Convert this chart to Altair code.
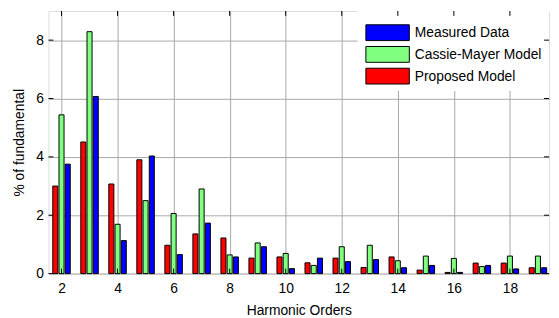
import altair as alt
import pandas as pd

orders = list(range(2, 20))
proposed = [3.00, 4.51, 3.07, 3.90, 0.97, 1.36, 1.22, 0.53, 0.57, 0.37, 0.53, 0.21,
            0.57, 0.12, 0.04, 0.36, 0.36, 0.20]
cassie = [5.44, 8.29, 1.69, 2.50, 2.06, 2.90, 0.64, 1.05, 0.69, 0.28, 0.92, 0.97,
          0.44, 0.60, 0.52, 0.24, 0.60, 0.60]
measured = [3.75, 6.07, 1.13, 4.03, 0.65, 1.73, 0.57, 0.92, 0.17, 0.53, 0.41, 0.48,
            0.20, 0.28, 0.04, 0.28, 0.16, 0.20]

series_names = ["Measured Data", "Cassie-Mayer Model", "Proposed Model"]
series_colors = ["#0000ff", "#80ff80", "#ff0000"]
x_ticks = [2, 4, 6, 8, 10, 12, 14, 16, 18]
y_ticks = [0, 2, 4, 6, 8]

rows = []
for i, o in enumerate(orders):
    rows.append({"order": o, "series": "Proposed Model", "value": proposed[i]})
    rows.append({"order": o, "series": "Cassie-Mayer Model", "value": cassie[i]})
    rows.append({"order": o, "series": "Measured Data", "value": measured[i]})
df = pd.DataFrame(rows)
xt = pd.DataFrame({"x0": x_ticks})
yt = pd.DataFrame({"value": y_ticks})

W, H = 507, 266
FONT = "Liberation Sans"
xscale = alt.Scale(domain=[1.535, 19.396], nice=False, zero=False)
yscale = alt.Scale(domain=[0, 9], nice=False)
common = dict(domain=False, ticks=False, grid=True, gridColor="#a8a8a8", gridWidth=1,
              labelFont=FONT, labelFontSize=14, labelColor="black",
              titleFont=FONT, titleFontSize=14, titleColor="black",
              titleFontWeight="normal", format="d")
x_axis = alt.Axis(values=x_ticks, title="Harmonic Orders",
                  labelPadding=8, titlePadding=8, **common)
y_axis = alt.Axis(values=y_ticks, title="% of fundamental",
                  labelPadding=5, titlePadding=10, **common)

bars = alt.Chart(df).transform_calculate(
    off="datum.series === 'Proposed Model' ? -0.222 : (datum.series === 'Measured Data' ? 0.222 : 0)"
).transform_calculate(
    x0="datum.order + datum.off - 0.09",
    x1="datum.order + datum.off + 0.09",
).mark_bar(stroke="black", strokeWidth=1, opacity=1).encode(
    x=alt.X("x0:Q", scale=xscale, axis=x_axis),
    x2="x1:Q",
    y=alt.Y("value:Q", scale=yscale, axis=y_axis),
    y2=alt.datum(0),
    color=alt.Color("series:N",
                    scale=alt.Scale(domain=series_names, range=series_colors),
                    legend=None),
)

# legend drawn as layered marks (top-right box)
LX0, LX1, LY0, LY1 = 313, W, 0, 81
legend_bg = alt.Chart(pd.DataFrame({"k": [0]})).mark_rect(
    fill="white", stroke=None).encode(
    x=alt.value(LX0), x2=alt.value(LX1), y=alt.value(LY0), y2=alt.value(LY1))
legend_layers = [legend_bg]
for i, name in enumerate(series_names):
    yc = 22 + 22 * i
    ldf = pd.DataFrame({"series": [name]})
    legend_layers.append(
        alt.Chart(ldf).mark_rect(stroke="black", strokeWidth=1,
                                 fill=series_colors[i]).encode(
            x=alt.value(LX0 + 8.5), x2=alt.value(LX0 + 52.5),
            y=alt.value(yc - 8), y2=alt.value(yc + 8)))
    legend_layers.append(
        alt.Chart(ldf).mark_text(align="left", baseline="middle", font=FONT,
                                 fontSize=14, color="black").encode(
            text="series:N", x=alt.value(LX0 + 58), y=alt.value(yc + 0.5)))

xt_bottom = alt.Chart(xt).mark_rule(color="black").encode(
    x=alt.X("x0:Q", scale=xscale, axis=x_axis), y=alt.value(H - 5), y2=alt.value(H))
xt_top = alt.Chart(xt).mark_rule(color="black").encode(
    x=alt.X("x0:Q", scale=xscale, axis=x_axis), y=alt.value(0), y2=alt.value(5))
yt_left = alt.Chart(yt).mark_rule(color="black").encode(
    y=alt.Y("value:Q", scale=yscale, axis=y_axis), x=alt.value(0), x2=alt.value(5))
yt_right = alt.Chart(yt).mark_rule(color="black").encode(
    y=alt.Y("value:Q", scale=yscale, axis=y_axis), x=alt.value(W - 5), x2=alt.value(W))

chart = alt.layer(bars, *legend_layers, xt_bottom, xt_top, yt_left, yt_right).properties(
    width=W, height=H,
    autosize=alt.AutoSizeParams(type="none"),
    padding={"left": 41, "top": 1, "right": 2, "bottom": 44},
).configure_view(
    stroke="black", strokeWidth=1
).configure(background="white")

chart.save("out.html", embed_options={"renderer": "svg", "actions": False})
